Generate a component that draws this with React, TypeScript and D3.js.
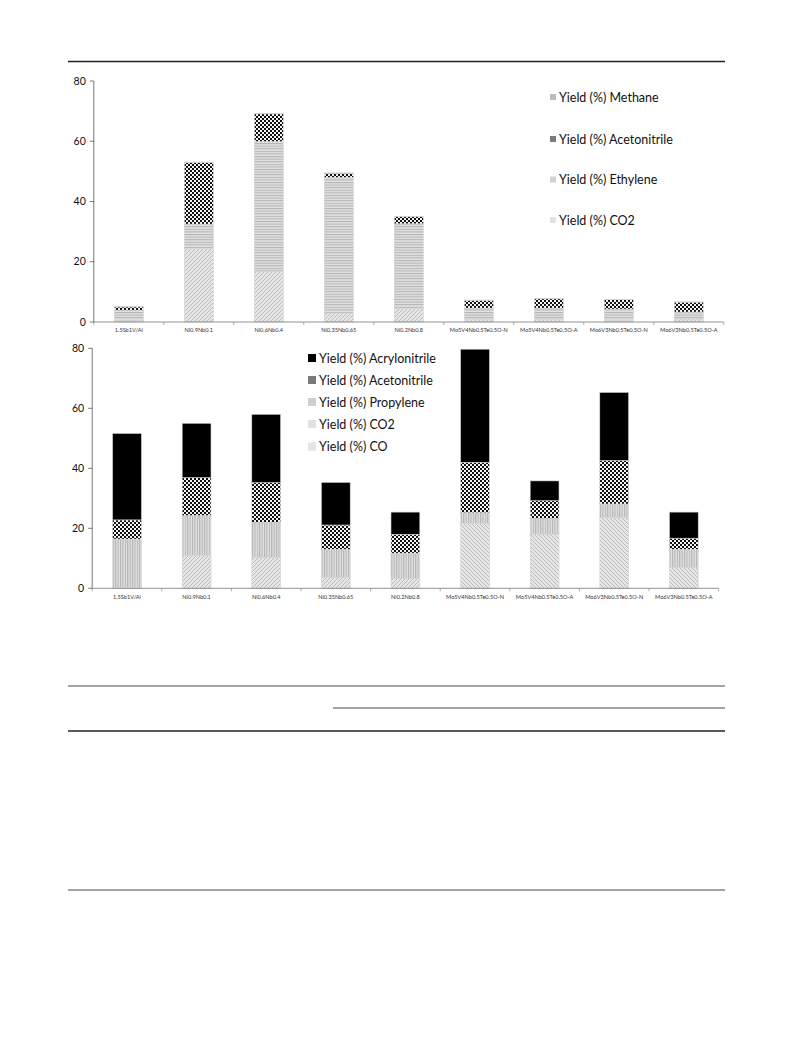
import React from 'react';
import * as d3 from 'd3';

const categories = [
  '1.5Sb1V/Al',
  'Ni0.9Nb0.1',
  'Ni0.6Nb0.4',
  'Ni0.35Nb0.65',
  'Ni0.2Nb0.8',
  'Mo5V4Nb0.5Te0.5O-N',
  'Mo5V4Nb0.5Te0.5O-A',
  'Mo6V3Nb0.5Te0.5O-N',
  'Mo6V3Nb0.5Te0.5O-A',
];

const yTicks = [0, 20, 40, 60, 80];

// upper chart (stack order bottom -> top)
const topCO2 = [0.5, 24.5, 16.8, 3.0, 4.6, 0.8, 0.8, 0.6, 1.0];
const topEthylene = [3.4, 8.0, 43.1, 45.0, 28.0, 3.8, 3.8, 3.7, 2.3];
const topAcetonitrile = [1.1, 20.4, 9.2, 1.4, 2.4, 2.6, 3.1, 3.1, 3.3];
const topMethane = [0.1, 0.2, 0.1, 0.1, 0.1, 0.1, 0.1, 0.1, 0.1];

// lower chart (stack order bottom -> top)
const botCO = [0, 0, 0, 0, 0, 21.7, 18.1, 23.6, 6.9];
const botCO2 = [0.3, 10.9, 10.3, 3.7, 3.2, 0, 0, 0, 0];
const botPropylene = [16.1, 13.3, 11.7, 9.3, 8.5, 3.5, 5.2, 4.5, 6.1];
const botAcetonitrile = [6.4, 12.7, 13.2, 8.1, 6.3, 16.8, 5.9, 14.5, 3.7];
const botAcrylonitrile = [28.8, 18.1, 22.8, 14.2, 7.4, 37.7, 6.6, 22.7, 8.7];

interface Series {
  name: string;
  values: number[];
  fill: string;
  swatch: string;
}

const topSeries: Series[] = [
  { name: 'Yield (%) CO2', values: topCO2, fill: 'url(#diagUp)', swatch: '#e2e2e2' },
  { name: 'Yield (%) Ethylene', values: topEthylene, fill: 'url(#hLines)', swatch: '#d2d2d2' },
  { name: 'Yield (%) Acetonitrile', values: topAcetonitrile, fill: 'url(#checker)', swatch: '#7a7a7a' },
  { name: 'Yield (%) Methane', values: topMethane, fill: '#bbbbbb', swatch: '#bbbbbb' },
];

const botSeries: Series[] = [
  { name: 'Yield (%) CO', values: botCO, fill: 'url(#diagDown)', swatch: '#e4e4e4' },
  { name: 'Yield (%) CO2', values: botCO2, fill: 'url(#diagUp)', swatch: '#e2e2e2' },
  { name: 'Yield (%) Propylene', values: botPropylene, fill: 'url(#vLines)', swatch: '#cfcfcf' },
  { name: 'Yield (%) Acetonitrile', values: botAcetonitrile, fill: 'url(#checker)', swatch: '#7a7a7a' },
  { name: 'Yield (%) Acrylonitrile', values: botAcrylonitrile, fill: '#000000', swatch: '#000000' },
];

const FONT = 'Lato, "Open Sans", sans-serif';

interface ChartProps {
  series: Series[];
  x0: number;
  x1: number;
  yTop: number;
  yBottom: number;
  labelY: number;
  legendX: number;
  legendYs: number[];
  legendSize: number;
}

function StackedChart({ series, x0, x1, yTop, yBottom, labelY, legendX, legendYs, legendSize }: ChartProps) {
  const x = d3.scaleBand<string>().domain(categories).range([x0, x1]).paddingInner(0.586).paddingOuter(0.293);
  const y = d3.scaleLinear().domain([0, 80]).range([yBottom, yTop]);

  const rows = categories.map((c, i) => {
    const r: Record<string, number | string> = { cat: c };
    series.forEach(s => { r[s.name] = s.values[i]; });
    return r;
  });
  const stacked = d3.stack<Record<string, number | string>>()
    .keys(series.map(s => s.name))
    .value((d, k) => d[k] as number)(rows);

  const step = x.step();
  const legendOrder = [...series].reverse();

  return (
    <g>
      {stacked.map((layer, li) => (
        <g key={layer.key}>
          {layer.map((d, i) => {
            const h = y(d[0]) - y(d[1]);
            if (h <= 0) return null;
            return (
              <rect
                key={i}
                x={x(categories[i])}
                y={y(d[1])}
                width={x.bandwidth()}
                height={h}
                fill={series[li].fill}
                stroke="#d4d4d4"
                strokeWidth={0.6}
              />
            );
          })}
        </g>
      ))}
      {/* y axis */}
      <line x1={x0} x2={x0} y1={yBottom} y2={yTop} stroke="#555" strokeWidth={0.8} />
      {yTicks.map(t => (
        <g key={t}>
          <line x1={x0 - 4} x2={x0} y1={y(t)} y2={y(t)} stroke="#555" strokeWidth={0.8} />
          <text x={x0 - 8} y={y(t)} dy="0.35em" textAnchor="end" fontSize={10.5} fontFamily={FONT} fill="#111">
            {t}
          </text>
        </g>
      ))}
      {/* x axis */}
      <line x1={x0} x2={x1} y1={yBottom} y2={yBottom} stroke="#777" strokeWidth={0.8} />
      {d3.range(categories.length + 1).map(i => (
        <line key={i} x1={x0 + i * step} x2={x0 + i * step} y1={yBottom} y2={yBottom + 3} stroke="#777" strokeWidth={0.6} />
      ))}
      {categories.map(c => (
        <text
          key={c}
          x={(x(c) ?? 0) + x.bandwidth() / 2}
          y={labelY}
          dy="0.35em"
          textAnchor="middle"
          fontSize={5.6}
          fontFamily={FONT}
          fill="#333"
        >
          {c}
        </text>
      ))}
      {/* legend */}
      {legendOrder.map((s, i) => (
        <g key={s.name} transform={`translate(${legendX},${legendYs[i]})`}>
          <rect x={0} y={-legendSize / 2} width={legendSize} height={legendSize} fill={s.swatch} />
          <text x={legendSize + 3} y={0} dy="0.36em" fontSize={12.5} fontFamily={FONT} fill="#111">
            {s.name}
          </text>
        </g>
      ))}
    </g>
  );
}

export default function App() {
  return (
    <div style={{ position: 'absolute', left: 0, top: 0 }}>
      <svg width={793} height={1053} viewBox="0 0 793 1053" style={{ display: 'block', background: '#fff' }}>
        <defs>
          <pattern id="diagUp" width={4} height={4} patternUnits="userSpaceOnUse">
            <rect width={4} height={4} fill="#e6e6e6" />
            <path d="M-1,1 l2,-2 M0,4 l4,-4 M3,5 l2,-2" stroke="#a8a8a8" strokeWidth={0.7} />
          </pattern>
          <pattern id="diagDown" width={4} height={4} patternUnits="userSpaceOnUse">
            <rect width={4} height={4} fill="#e6e6e6" />
            <path d="M-1,3 l2,2 M0,0 l4,4 M3,-1 l2,2" stroke="#a8a8a8" strokeWidth={0.7} />
          </pattern>
          <pattern id="hLines" width={4} height={2.6} patternUnits="userSpaceOnUse">
            <rect width={4} height={2.6} fill="#e2e2e2" />
            <line x1={0} x2={4} y1={0.6} y2={0.6} stroke="#a0a0a0" strokeWidth={0.8} />
          </pattern>
          <pattern id="vLines" width={2.4} height={4} patternUnits="userSpaceOnUse">
            <rect width={2.4} height={4} fill="#e2e2e2" />
            <line x1={0.6} x2={0.6} y1={0} y2={4} stroke="#9c9c9c" strokeWidth={0.8} />
          </pattern>
          <pattern id="checker" width={4} height={4} patternUnits="userSpaceOnUse">
            <rect width={4} height={4} fill="#f4f4f4" />
            <rect x={0} y={0} width={2} height={2} fill="#111" />
            <rect x={2} y={2} width={2} height={2} fill="#111" />
          </pattern>
        </defs>

        {/* page header rule */}
        <line x1={68} x2={725} y1={61.5} y2={61.5} stroke="#222" strokeWidth={1.6} />

        <StackedChart
          series={topSeries}
          x0={93.8}
          x1={723.8}
          yTop={81}
          yBottom={322}
          labelY={330.5}
          legendX={550}
          legendYs={[97, 139, 179.5, 220]}
          legendSize={6}
        />

        <StackedChart
          series={botSeries}
          x0={92.2}
          x1={718.6}
          yTop={348.3}
          yBottom={588.3}
          labelY={597}
          legendX={308}
          legendYs={[358, 380, 402, 424, 446.5]}
          legendSize={8}
        />

        {/* table rules below the figure */}
        <line x1={68} x2={725} y1={686} y2={686} stroke="#333" strokeWidth={0.9} />
        <line x1={333} x2={725} y1={708} y2={708} stroke="#333" strokeWidth={0.9} />
        <line x1={68} x2={725} y1={731} y2={731} stroke="#222" strokeWidth={1.5} />
        <line x1={68} x2={725} y1={890} y2={890} stroke="#333" strokeWidth={0.9} />
      </svg>
    </div>
  );
}
